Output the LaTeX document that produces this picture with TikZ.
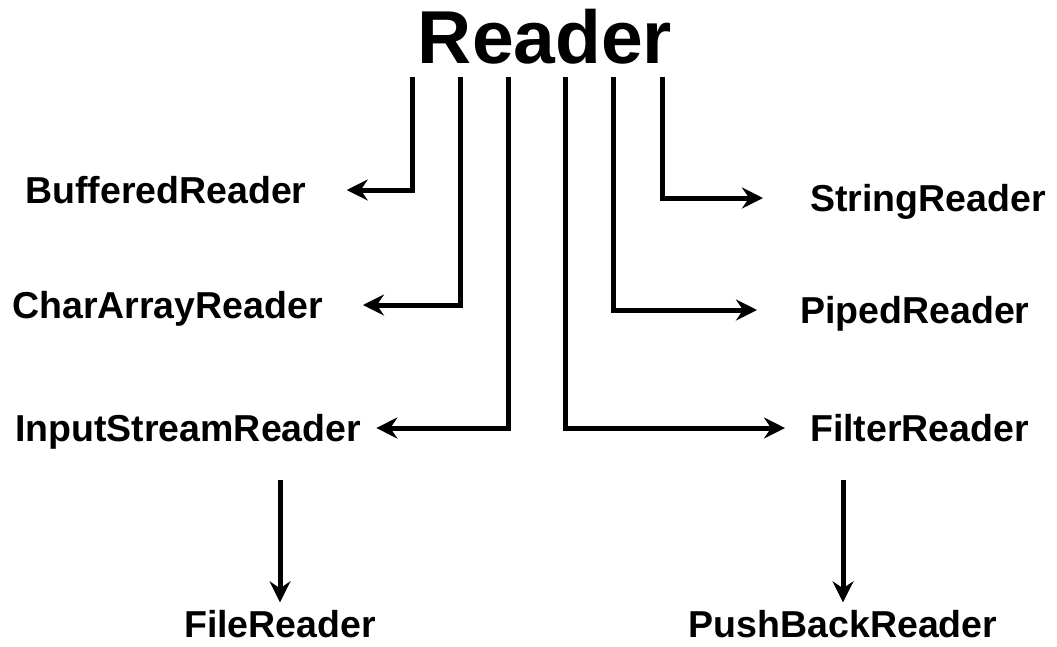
\documentclass[tikz,border=0pt]{standalone}
\usepackage{fontspec}
\setmainfont{Liberation Sans}
\usepackage{tikz}
\usetikzlibrary{arrows.meta}

\begin{document}
\begin{tikzpicture}[x=1pt,y=-1pt,
  cls/.style={font=\bfseries\fontsize{37.5}{40}\selectfont, inner sep=0pt, text height=27pt, text depth=0pt},
  arr/.style={line width=5pt, line join=miter, -{Stealth[length=21pt,width=21pt,inset=7pt]}}]
  
  \useasboundingbox (0,0) rectangle (1057,646);
  
  \node[font=\bfseries\fontsize{75}{78}\selectfont, inner sep=0pt] (root) at (545,37) {Reader};
  \foreach \x [count=\i] in {412,460,508,565,613,662}
    \coordinate (t\i) at (\x,77);
  
  \node[cls, anchor=west] (buf) at (25,190) {BufferedReader};
  \node[cls, anchor=west] (car) at (12,305) {CharArrayReader};
  \node[cls, anchor=west] (isr) at (15,428) {InputStreamReader};
  \node[cls, anchor=west] (str) at (810,198) {StringReader};
  \node[cls, anchor=west] (pip) at (800,310) {PipedReader};
  \node[cls, anchor=west] (fil) at (810,428) {FilterReader};
  \node[cls] (file) at (280,624) {FileReader};
  \node[cls] (push) at (843,624) {PushBackReader};
  
  \draw[arr] (t1) |- ([xshift=40pt]buf.east);
  \draw[arr] (t2) |- ([xshift=40pt]car.east);
  \draw[arr] (t3) |- ([xshift=15pt]isr.east);
  \draw[arr] (t4) |- ([xshift=-25pt]fil.west);
  \draw[arr] (t5) |- ([xshift=-43pt]pip.west);
  \draw[arr] (t6) |- ([xshift=-47pt]str.west);
  
  \draw[arr] ([yshift=-38pt]isr.south -| file.north) -- ([yshift=8pt]file.north);
  \draw[arr] ([yshift=-38pt]fil.south -| push.north) -- ([yshift=8pt]push.north);
\end{tikzpicture}
\end{document}
